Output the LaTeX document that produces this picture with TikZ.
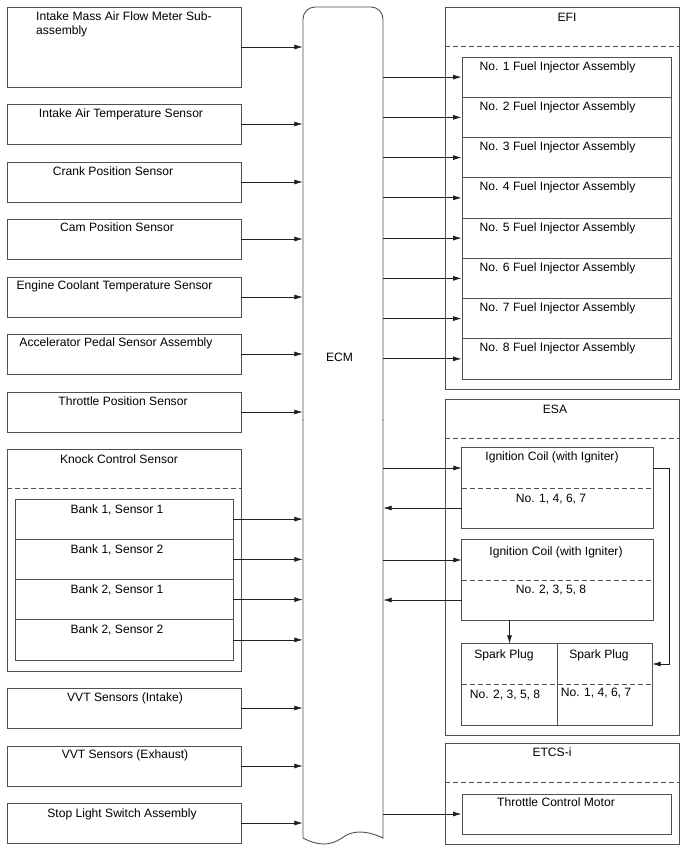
\documentclass[tikz,border=0pt]{standalone}
\usepackage{fontspec}
\setmainfont{Liberation Sans}
\usetikzlibrary{arrows.meta}
\definecolor{lc}{HTML}{505050}
\definecolor{ac}{HTML}{202020}
\newcommand\dfont{\fontsize{12.1}{14}\selectfont}
\tikzset{
  blk/.style={draw=lc, line width=0.9pt, inner sep=0, minimum width=#1},
  blk/.default=234pt,
  half/.style={inner sep=0, minimum width=#1, minimum height=40pt},
  arr/.style={draw=ac, line width=0.8pt, -{Latex[length=8.5pt,width=5pt]}},
  dsh/.style={draw=lc, line width=0.9pt, dash pattern=on 5pt off 3pt},
  txt/.style={inner sep=0, anchor=base, font=\dfont, text=black}
}
\begin{document}
\begin{tikzpicture}[x=1pt,y=-1pt]
\useasboundingbox (0,0) rectangle (688,852);
% ---------- left sensor boxes ----------
\node[blk, minimum height=80pt] (maf) at (124,47) {};
\node[blk, minimum height=40pt] (iat) at (124,124) {};
\node[blk, minimum height=40pt] (ckp) at (124,182) {};
\node[blk, minimum height=40pt] (cmp) at (124,239) {};
\node[blk, minimum height=40pt] (ect) at (124,297) {};
\node[blk, minimum height=40pt] (app) at (124,354) {};
\node[blk, minimum height=40pt] (tps) at (124,412) {};
\node[blk, minimum height=222pt] (kcs) at (124,560) {};
\draw[dsh] ([yshift=-40pt]kcs.north west) -- ([yshift=-40pt]kcs.north east);
\node[blk=218pt, minimum height=40.25pt] (b11) at (124,519.1) {};
\node[blk=218pt, minimum height=40.25pt] (b12) at (124,559.4) {};
\node[blk=218pt, minimum height=40.25pt] (b21) at (124,599.6) {};
\node[blk=218pt, minimum height=40.25pt] (b22) at (124,639.9) {};
\node[blk, minimum height=40pt] (vvti) at (124,708) {};
\node[blk, minimum height=40pt] (vvte) at (124,766) {};
\node[blk, minimum height=40pt] (stp) at (124,823) {};
% texts
\node[txt, anchor=base west] (maft1) at (36,20.5) {Intake Mass Air Flow Meter Sub-};
\node[txt, anchor=base west] (maft2) at (36,34.5) {assembly};
\node[txt] (iatt) at (121,117) {Intake Air Temperature Sensor};
\node[txt] (ckpt) at (113,175) {Crank Position Sensor};
\node[txt] (cmpt) at (117,231) {Cam Position Sensor};
\node[txt] (ectt) at (114.5,289) {Engine Coolant Temperature Sensor};
\node[txt] (appt) at (116,346) {Accelerator Pedal Sensor Assembly};
\node[txt] (tpst) at (123,405) {Throttle Position Sensor};
\node[txt] (kcst) at (119,463) {Knock Control Sensor};
\node[txt] (b11t) at (117,513) {Bank 1, Sensor 1};
\node[txt] (b12t) at (117,553) {Bank 1, Sensor 2};
\node[txt] (b21t) at (117,593) {Bank 2, Sensor 1};
\node[txt] (b22t) at (117,633) {Bank 2, Sensor 2};
\node[txt] (vvtit) at (125,701) {VVT Sensors (Intake)};
\node[txt] (vvtet) at (125,758) {VVT Sensors (Exhaust)};
\node[txt] (stpt) at (122,817) {Stop Light Switch Assembly};
% ---------- ECM ----------
\node[inner sep=0, minimum width=80pt, minimum height=831pt] (ecm) at (343,422.5) {};
\draw[draw=lc, line width=0.9pt, rounded corners=12pt] (303,420) -- (303,7) -- (383,7) -- (383,420);
\draw[draw=lc, line width=0.9pt] (383,419) -- (383,838) .. controls (366,830) and (352,830) .. (342,838)
  .. controls (330,846) and (318,846) .. (303,838) -- (303,419);
\node[txt] (ecmt) at (339.5,361) {ECM};
% ---------- EFI ----------
\node[blk, minimum height=382pt] (efi) at (562,198) {};
\draw[dsh] ([yshift=-40pt]efi.north west) -- ([yshift=-40pt]efi.north east);
\node[txt] (efit) at (567,21) {EFI};
\foreach \i in {1,...,8}{
  \node[blk=209pt, minimum height=40.25pt] (inj\i) at (566.5,{77.1+(\i-1)*40.25}) {};
  \node[txt] (inj\i t) at (557.5,{70+(\i-1)*40.25}) {No. \i\ Fuel Injector Assembly};
}
% ---------- ESA ----------
\node[blk, minimum height=336pt] (esa) at (562,567) {};
\draw[dsh] ([yshift=-40pt]esa.north west) -- ([yshift=-40pt]esa.north east);
\node[txt] (esat) at (555,413) {ESA};
\node[half=191pt] (c1t) at (557.5,468) {};
\node[half=191pt] (c1b) at (557.5,508) {};
\draw[draw=lc, line width=0.9pt] (c1t.north west) rectangle (c1b.south east);
\draw[dsh] (c1t.south west) -- (c1t.south east);
\node[txt] (c1tt) at (552,460) {Ignition Coil (with Igniter)};
\node[txt] (c1bt) at (551,502) {No. 1, 4, 6, 7};
\node[half=191pt] (c2t) at (557.5,560) {};
\node[half=191pt] (c2b) at (557.5,600) {};
\draw[draw=lc, line width=0.9pt] (c2t.north west) rectangle (c2b.south east);
\draw[dsh] (c2t.south west) -- (c2t.south east);
\node[txt] (c2tt) at (556,555) {Ignition Coil (with Igniter)};
\node[txt] (c2bt) at (551,593) {No. 2, 3, 5, 8};
\node[half=95pt] (s1t) at (509.5,664) {};
\node[half=95pt, minimum height=41pt] (s1b) at (509.5,704.5) {};
\node[half=95pt] (s2t) at (604.5,664) {};
\node[half=95pt, minimum height=41pt] (s2b) at (604.5,704.5) {};
\draw[draw=lc, line width=0.9pt] (s1t.north west) rectangle (s2b.south east);
\draw[draw=lc, line width=0.9pt] (s1t.north east) -- (s1b.south east);
\draw[dsh] (s1t.south west) -- (s2t.south east);
\node[txt] (s1tt) at (504,658) {Spark Plug};
\node[txt] (s2tt) at (599,658) {Spark Plug};
\node[txt] (s1bt) at (505,698) {No. 2, 3, 5, 8};
\node[txt] (s2bt) at (596,696) {No. 1, 4, 6, 7};
% ---------- ETCS-i ----------
\node[blk, minimum height=101pt] (etcs) at (562,793.5) {};
\draw[dsh] ([yshift=-40pt]etcs.north west) -- ([yshift=-40pt]etcs.north east);
\node[txt] (etcst) at (552,756) {ETCS-i};
\node[blk=209pt, minimum height=40pt] (tcm) at (566.5,814) {};
\node[txt] (tcmt) at (556,806) {Throttle Control Motor};
% ---------- connectors ----------
\foreach \n in {maf,iat,ckp,cmp,ect,app,tps,b11,b12,b21,b22,vvti,vvte,stp}{
  \draw[arr] (\n.east) -- (\n.east -| ecm.west);
}
\foreach \i in {1,...,8}{
  \draw[arr] (inj\i.west -| ecm.east) -- (inj\i.west);
}
\draw[arr] (c1t.west -| ecm.east) -- (c1t.west);
\draw[arr] (c1b.west) -- (c1b.west -| ecm.east);
\draw[arr] (c2t.west -| ecm.east) -- (c2t.west);
\draw[arr] (c2b.west) -- (c2b.west -| ecm.east);
\draw[arr] (c1t.east) -- ++(16,0) |- (s2t.east);
\draw[arr] (s1t.north |- c2b.south) -- (s1t.north);
\draw[arr] (tcm.west -| ecm.east) -- (tcm.west);
\end{tikzpicture}
\end{document}
